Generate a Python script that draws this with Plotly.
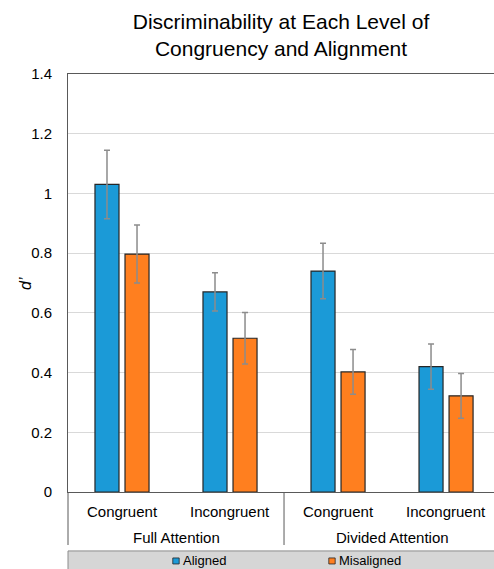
import plotly.graph_objects as go

# Conditions (two-level category axis)
attention = ["Full Attention", "Full Attention", "Divided Attention", "Divided Attention"]
congruency = ["Congruent", "Incongruent", "Congruent", "Incongruent"]
attention_groups = ["Full Attention", "Divided Attention"]

# Series values (d') and standard errors
series_names = ["Aligned", "Misaligned"]
aligned = [1.03, 0.67, 0.74, 0.42]
aligned_err = [0.115, 0.064, 0.093, 0.076]
misaligned = [0.797, 0.515, 0.402, 0.322]
misaligned_err = [0.097, 0.086, 0.075, 0.075]

colors = ["#1B9AD7", "#FF7F1F"]
FONT = "Liberation Sans, Arial, sans-serif"

X_RANGE = [-0.5, 3.444]


def cat_to_paper(pos):
    """Map a category index position onto paper coordinates."""
    return (pos - X_RANGE[0]) / (X_RANGE[1] - X_RANGE[0])


fig = go.Figure()
for name, vals, errs, col in zip(series_names, [aligned, misaligned],
                                  [aligned_err, misaligned_err], colors):
    fig.add_trace(go.Bar(
        name=name,
        x=[attention, congruency],
        y=vals,
        marker=dict(color=col, line=dict(color="#262626", width=1.2)),
        error_y=dict(type="data", array=errs, visible=True,
                     color="#8C8C8C", thickness=1.5, width=3),
        showlegend=False,
    ))

shapes = []
annotations = []
label_font = dict(family=FONT, size=15, color="#000")

# Two-row category labels with group dividers
for i, lab in enumerate(congruency):
    annotations.append(dict(xref="paper", yref="paper", x=cat_to_paper(i), y=-0.0478,
                            xanchor="center", yanchor="middle", showarrow=False,
                            text=lab, font=label_font))
for g, lab in enumerate(attention_groups):
    annotations.append(dict(xref="paper", yref="paper", x=cat_to_paper(2 * g + 0.5),
                            y=-0.1077, xanchor="center", yanchor="middle",
                            showarrow=False, text=lab, font=label_font))
for b in [-0.5, 1.5, 3.5]:
    shapes.append(dict(type="line", xref="paper", yref="paper",
                       x0=cat_to_paper(b), x1=cat_to_paper(b), y0=0, y1=-0.1268,
                       line=dict(color="#595959", width=1)))

# Axis title
annotations.append(dict(xref="paper", yref="paper", x=-0.101, y=0.5,
                        xanchor="center", yanchor="middle", showarrow=False,
                        textangle=-90, text="<i>d’</i>",
                        font=dict(family=FONT, size=16, color="#000")))

# Legend band along the bottom, drawn as shapes + text
shapes.append(dict(type="rect", xref="paper", yref="paper", x0=0, x1=1.02,
                   y0=-0.141, y1=-0.2, fillcolor="#D6D6D6",
                   line=dict(color="#8C8C8C", width=1), layer="below"))
legend_x = [0.2535, 0.6197]  # square centres in paper units
for name, col, lx in zip(series_names, colors, legend_x):
    shapes.append(dict(type="rect", xref="paper", yref="paper",
                       x0=lx - 0.0075, x1=lx + 0.0075,
                       y0=-0.1578, y1=-0.1722,
                       fillcolor=col, line=dict(color="#262626", width=0.8)))
    annotations.append(dict(xref="paper", yref="paper", x=lx + 0.011, y=-0.165,
                            xanchor="left", yanchor="middle", showarrow=False,
                            text=name, font=dict(family=FONT, size=13, color="#000")))

fig.update_layout(
    width=494, height=569,
    margin=dict(l=68, r=0, t=74, b=77, autoexpand=False),
    paper_bgcolor="white", plot_bgcolor="white",
    barmode="group", bargap=0.444, bargroupgap=0.2,
    title=dict(text="Discriminability at Each Level of<br>Congruency and Alignment",
               x=0.5, xref="paper", xanchor="center",
               y=0.949, yref="container", yanchor="middle",
               font=dict(family=FONT, size=21, color="#000")),
    font=dict(family=FONT, color="#000"),
    shapes=shapes,
    annotations=annotations,
)

fig.update_xaxes(
    type="multicategory", range=X_RANGE,
    showline=True, linecolor="#595959", linewidth=1, mirror=True,
    showdividers=False, showticklabels=False,
    ticks="", showgrid=False,
    automargin=False,
)
fig.update_yaxes(
    range=[0, 1.4], dtick=0.2, tick0=0,
    showline=True, linecolor="#595959", linewidth=1, mirror=True,
    showgrid=True, gridcolor="#D9D9D9", gridwidth=1,
    zeroline=False, ticks="", ticklabelstandoff=12,
    tickfont=dict(family=FONT, size=15, color="#000"),
    automargin=False,
)

fig.write_html("out.html")
